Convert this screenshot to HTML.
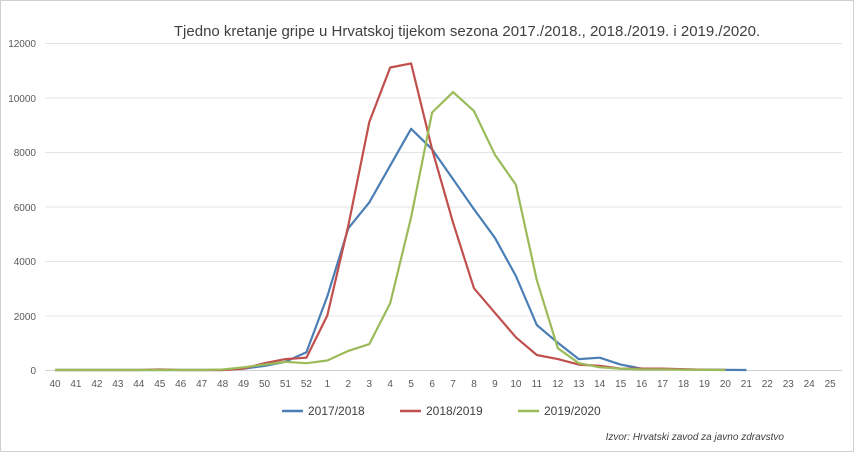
<!DOCTYPE html><html><head><meta charset="utf-8"><style>body{margin:0;background:#fff}svg{display:block}text{font-family:"Liberation Sans",sans-serif}</style></head><body>
<svg width="854" height="452" viewBox="0 0 854 452" xmlns="http://www.w3.org/2000/svg">
<rect x="0.5" y="0.5" width="853" height="451" fill="#fff" stroke="#d0d0d0"/>
<text x="467" y="36" font-size="15" text-anchor="middle" fill="#404040">Tjedno kretanje gripe u Hrvatskoj tijekom sezona 2017./2018., 2018./2019. i 2019./2020.</text>
<g stroke="#e4e4e4" stroke-width="1">
<line x1="45" x2="842" y1="43.5" y2="43.5"/><line x1="45" x2="842" y1="98" y2="98"/><line x1="45" x2="842" y1="152.5" y2="152.5"/><line x1="45" x2="842" y1="207" y2="207"/><line x1="45" x2="842" y1="261.5" y2="261.5"/><line x1="45" x2="842" y1="316" y2="316"/>
</g>
<line x1="45" x2="842" y1="370.5" y2="370.5" stroke="#d0d0d0"/>
<g font-size="10" fill="#595959" text-anchor="end">
<text x="36" y="374">0</text><text x="36" y="320">2000</text><text x="36" y="265">4000</text><text x="36" y="211">6000</text><text x="36" y="156">8000</text><text x="36" y="102">10000</text><text x="36" y="47">12000</text>
</g>
<g id="xl" font-size="10" fill="#595959" text-anchor="middle"></g>
<g fill="none" stroke-width="2.2" stroke-linejoin="round">
<polyline id="a" stroke="#4a7eb5"/><polyline id="b" stroke="#c0504d"/><polyline id="c" stroke="#9bbb59"/>
</g>
<line x1="282" x2="303" y1="411" y2="411" stroke="#4a7eb5" stroke-width="2.5"/><text x="308" y="415" font-size="12" fill="#404040">2017/2018</text>
<line x1="400" x2="421" y1="411" y2="411" stroke="#c0504d" stroke-width="2.5"/><text x="426" y="415" font-size="12" fill="#404040">2018/2019</text>
<line x1="518" x2="539" y1="411" y2="411" stroke="#9bbb59" stroke-width="2.5"/><text x="544" y="415" font-size="12" fill="#404040">2019/2020</text>
<text x="784" y="440" font-size="10" font-style="italic" fill="#404040" text-anchor="end">Izvor: Hrvatski zavod za javno zdravstvo</text>
</svg>
<script>
var labs=[];for(var i=40;i<=52;i++)labs.push(i);for(i=1;i<=25;i++)labs.push(i);
var g=document.getElementById('xl'),s='';
function X(i){return 55+i*20.95}function Y(v){return 370-v*0.02725}
labs.forEach(function(l,i){s+='<text x="'+X(i)+'" y="387">'+l+'</text>'});g.innerHTML=s;
var A=[0,0,0,0,0,0,0,0,0,50,150,300,650,2700,5200,6150,7500,8850,8100,7000,5900,4850,3450,1650,1000,400,450,200,50,30,20,10,5,0];
var B=[0,0,0,0,0,20,0,0,0,50,250,400,450,2000,5300,9100,11100,11250,8100,5400,3000,2100,1200,550,400,200,150,50,50,50,30,10,0];
var C=[0,0,0,0,0,0,0,0,20,100,200,300,250,350,700,950,2450,5600,9450,10200,9500,7900,6800,3300,800,250,100,50,20,20,10,5,0];
function P(d){return d.map(function(v,i){return X(i).toFixed(1)+','+Y(v).toFixed(1)}).join(' ')}
document.getElementById('a').setAttribute('points',P(A));
document.getElementById('b').setAttribute('points',P(B));
document.getElementById('c').setAttribute('points',P(C));
</script>
</body></html>
